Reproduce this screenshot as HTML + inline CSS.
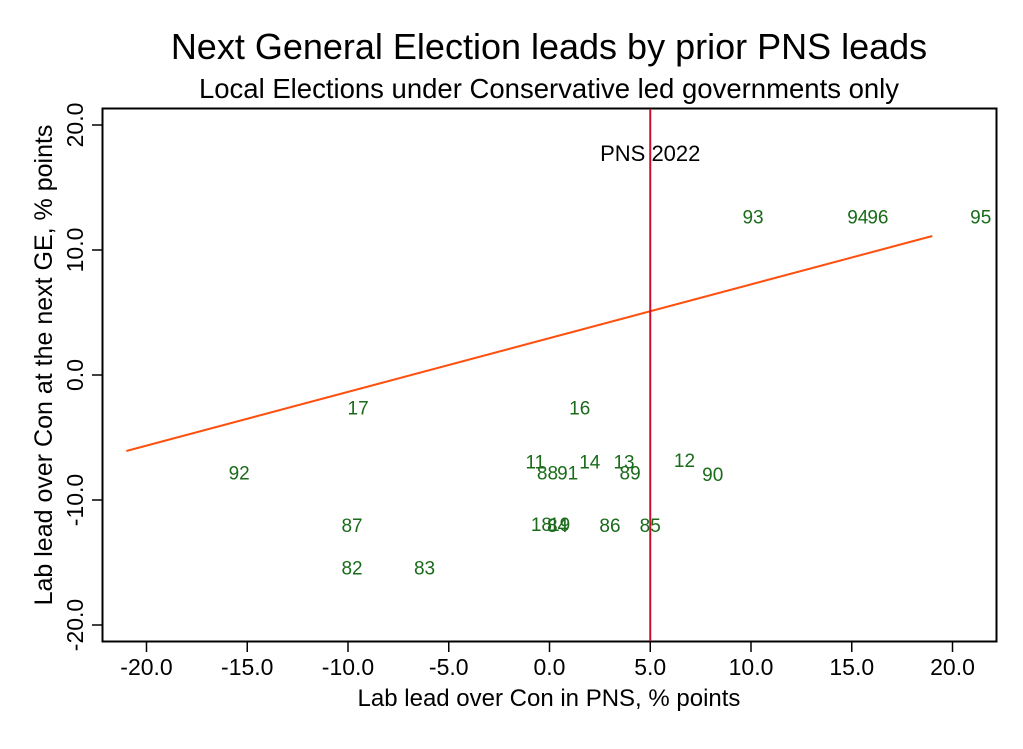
<!DOCTYPE html>
<html><head><meta charset="utf-8"><style>
body{margin:0;background:#fff;}
svg text{font-family:"Liberation Sans",Arial,sans-serif;}
</style></head><body>
<svg id="chart" width="1023" height="744" xmlns="http://www.w3.org/2000/svg">
<rect width="1023" height="744" fill="#fff"/>
<text x="549" y="59" font-size="36" text-anchor="middle">Next General Election leads by prior PNS leads</text>
<text x="549" y="98" font-size="27.5" text-anchor="middle">Local Elections under Conservative led governments only</text>
<rect x="102.5" y="108.5" width="894" height="533" fill="none" stroke="#000" stroke-width="2"/>
<g id="xticks"></g><g id="yticks"></g>
<g id="marks"></g>
<text x="549" y="706" font-size="24" text-anchor="middle">Lab lead over Con in PNS, % points</text>
<text transform="translate(52,365) rotate(-90)" font-size="25" text-anchor="middle">Lab lead over Con at the next GE, % points</text>
</svg>
<script>
const labels=["93","94","96","95","17","16","11","14","13","12","88","91","89","90","92","87","18","19","84","86","85","82","83"];
const xs=[10.1,15.3,16.3,21.4,-9.5,1.5,-0.7,2.0,3.7,6.7,-0.1,0.9,4.0,8.1,-15.4,-9.8,-0.4,0.5,0.4,3.0,5.0,-9.8,-6.2];
const ys=[12.7,12.7,12.7,12.7,-2.6,-2.6,-6.9,-6.9,-6.9,-6.8,-7.8,-7.8,-7.8,-7.9,-7.8,-12.0,-11.9,-11.9,-12.0,-12.0,-12.0,-15.4,-15.4];
const xTicks=[-20,-15,-10,-5,0,5,10,15,20];
const yTicks=[-20,-10,0,10,20];
const fitX=[-21,19];
const fitIntercept=2.95, fitSlope=0.43;
const refLineX=5;
const refLabel="PNS 2022";
const X=v=>549.5+v*20.15, Y=v=>375-v*12.5;
const NS="http://www.w3.org/2000/svg";
function mk(t,a,p){const e=document.createElementNS(NS,t);for(const k in a)e.setAttribute(k,a[k]);p.appendChild(e);return e;}
const xt=document.getElementById('xticks'),yt=document.getElementById('yticks'),m=document.getElementById('marks');
xTicks.forEach(v=>{
 const l=mk('line',{x1:X(v),x2:X(v),y1:642,y2:652,stroke:'#000','stroke-width':1.5},xt);
 
 
 const t=mk('text',{x:X(v),y:675,'font-size':23,'text-anchor':'middle'},xt);t.textContent=v.toFixed(1);
 
 
});
yTicks.forEach(v=>{
 const l=mk('line',{x1:92,x2:102,y1:Y(v),y2:Y(v),stroke:'#000','stroke-width':1.5},yt);
 
 
 const t=mk('text',{transform:`translate(83,${Y(v)}) rotate(-90)`,'font-size':23,'text-anchor':'middle'},yt);t.textContent=v.toFixed(1);
 
 
});
const fl=mk('line',{x1:X(fitX[0]),y1:Y(fitIntercept+fitSlope*fitX[0]),x2:X(fitX[1]),y2:Y(fitIntercept+fitSlope*fitX[1]),stroke:'#ff5010','stroke-width':2},m);


const rl=mk('line',{x1:X(refLineX),x2:X(refLineX),y1:109,y2:641,stroke:'#c8102e','stroke-width':2},m);


const rt=mk('text',{x:X(refLineX),y:161,'font-size':22,'text-anchor':'middle'},m);rt.textContent=refLabel;


labels.forEach((s,i)=>{
 const t=mk('text',{x:X(xs[i]),y:Y(ys[i])+7,'font-size':19,'text-anchor':'middle',fill:'#1a6b1a'},m);t.textContent=s;
 
 
});
</script>
</body></html>
